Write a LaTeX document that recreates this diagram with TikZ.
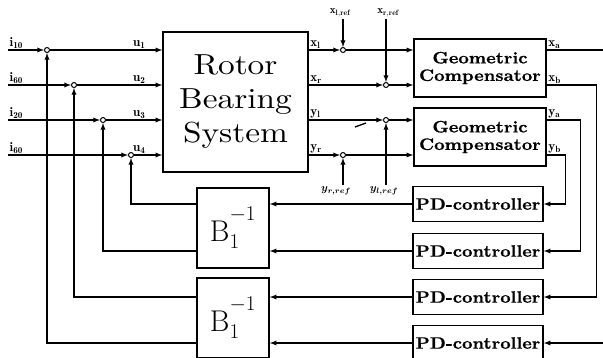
\RequirePackage{fix-cm}
\documentclass[tikz,border=0pt]{standalone}
\usepackage{fontspec}
\usepackage{bm}
\newfontfamily\rbsfont[Extension=.otf,FakeStretch=1.15]{lmroman10-regular}
\newfontfamily\boxfont[Extension=.otf,FakeStretch=1.1,FakeBold=0.8]{lmroman10-bold}
\usetikzlibrary{calc,arrows,positioning}
\tikzset{
	block/.style={
		draw, rectangle, line width=1.5pt,
		inner sep=0pt, align=center, text=black
	},
	comp_block/.style={
		block, minimum width=132pt, minimum height=58pt,
		font=\boxfont\fontsize{16.5}{17.5}\selectfont
	},
	pd_block/.style={
		block, minimum width=130pt, minimum height=35pt,
		font=\boxfont\fontsize{16.5}{17}\selectfont
	},
	binv_block/.style={
		block, minimum width=72pt, minimum height=80pt,
		font=\fontsize{30}{30}\selectfont
	},
	sum_node/.style={
		draw, circle, minimum size=5pt, inner sep=0pt,
		fill=white, line width=1pt
	},
	sig/.style={font=\fontsize{13}{14}\selectfont, inner sep=1pt},
	ref_sig/.style={font=\fontsize{11}{12}\selectfont, inner sep=1pt},
	>=latex
}

\begin{document}
\begin{tikzpicture}[x=1pt, y=-1pt, line width=1.3pt]
	\useasboundingbox (0,0) rectangle (603,357);
	% blocks
	\node[block, minimum width=145pt, minimum height=140pt,
		font=\rbsfont\fontsize{29}{34}\selectfont] (rbs) at (235.5,102) {Rotor\\Bearing\\System};
	\node[comp_block] (comp_x) at (480,68) {Geometric\\Compensator};
	\node[comp_block] (comp_y) at (480,137) {Geometric\\Compensator};
	\node[pd_block] (pd_a) at (478,204) {PD-controller};
	\node[pd_block] (pd_b) at (478,251) {PD-controller};
	\node[pd_block] (pd_c) at (478,297) {PD-controller};
	\node[pd_block] (pd_d) at (478,343) {PD-controller};
	\node[binv_block] (binv_a) at (233,228) {$\mathrm{B}_1^{\raisebox{10pt}{$\scriptstyle-1$}}$};
	\node[binv_block] (binv_b) at (233,318) {$\mathrm{B}_1^{\raisebox{10pt}{$\scriptstyle-1$}}$};
	% summing points
	\node[sum_node] (sum_u1) at (47,50) {};
	\node[sum_node] (sum_u2) at (74,85) {};
	\node[sum_node] (sum_u3) at (103,120) {};
	\node[sum_node] (sum_u4) at (131,155) {};
	\node[sum_node] (sum_xl) at (343,50) {};
	\node[sum_node] (sum_xr) at (386,85) {};
	\node[sum_node] (sum_yl) at (386,120) {};
	\node[sum_node] (sum_yr) at (343,155) {};
	% inputs
	\foreach \n/\t in {1/10, 2/60, 3/20, 4/60} {
		\coordinate (in_\n) at (sum_u1 -| 8,0);
		\coordinate (in_\n) at ($(in_\n)+(0,{35*(\n-1)})$);
		\node[sig, above right] (lab_i\n) at (in_\n) {$\mathbf{i_{\t}}$};
		\draw[->] (in_\n) -- (sum_u\n);
		\draw[->] (sum_u\n) -- (rbs.west |- sum_u\n);
		\node[sig, above] (lab_u\n) at ($(rbs.west |- sum_u\n)+(-23,0)$) {$\mathbf{u_{\n}}$};
	}
	% outputs
	\draw[->] (rbs.east |- sum_xl) -- (sum_xl);
	\draw[->] (rbs.east |- sum_xr) -- (sum_xr);
	\draw[->] (rbs.east |- sum_yl) -- (sum_yl);
	\draw[->] (rbs.east |- sum_yr) -- (sum_yr);
	\node[sig, above right] (lab_xl) at (rbs.east |- sum_xl) {$\mathbf{x_l}$};
	\node[sig, above right] (lab_xr) at (rbs.east |- sum_xr) {$\mathbf{x_r}$};
	\node[sig, above right] (lab_yl) at (rbs.east |- sum_yl) {$\mathbf{y_l}$};
	\node[sig, above right] (lab_yr) at (rbs.east |- sum_yr) {$\mathbf{y_r}$};
	\draw[->] (sum_xl) -- (comp_x.west |- sum_xl);
	\draw[->] (sum_xr) -- (comp_x.west |- sum_xr);
	\draw[->] (sum_yl) -- (comp_y.west |- sum_yl);
	\draw[->] (sum_yr) -- (comp_y.west |- sum_yr);
	% references
	\node[ref_sig] (ref_xl) at (340,13) {$\mathbf{x_{l,ref}}$};
	\node[ref_sig] (ref_xr) at (388,13) {$\mathbf{x_{r,ref}}$};
	\node[ref_sig] (ref_yr) at (336,191) {$\bm{y_{r,ref}}$};
	\node[ref_sig] (ref_yl) at (384,191) {$\bm{y_{l,ref}}$};
	\draw[->] (ref_xl.south -| sum_xl) -- (sum_xl);
	\draw[->] (ref_xr.south -| sum_xr) -- (sum_xr);
	\draw[->] (ref_yr.north -| sum_yr) -- (sum_yr);
	\draw[->] (ref_yl.north -| sum_yl) -- (sum_yl);
	\draw (355,127) -- (366,123);
	% compensator outputs
	\coordinate (xa_end) at (603,50);
	\coordinate (xa_in) at (603,343);
	\draw (comp_x.east |- xa_end) -- (xa_end);
	\draw[->] (comp_x.east |- sum_xr) -- ++(50,0) |- (pd_c);
	\draw[->] (comp_y.east |- sum_yl) -- ++(34,0) |- (pd_b);
	\draw[->] (comp_y.east |- sum_yr) -- ++(19,0) |- (pd_a);
	\draw[->] (xa_in) -- (pd_d);
	\node[sig, above right] (lab_xa) at (comp_x.east |- xa_end) {$\mathbf{x_a}$};
	\node[sig, above right] (lab_xb) at (comp_x.east |- sum_xr) {$\mathbf{x_b}$};
	\node[sig, above right] (lab_ya) at (comp_y.east |- sum_yl) {$\mathbf{y_a}$};
	\node[sig, above right] (lab_yb) at (comp_y.east |- sum_yr) {$\mathbf{y_b}$};
	% feedback
	\draw[->] (pd_a) -- (binv_a.east |- pd_a);
	\draw[->] (pd_b) -- (binv_a.east |- pd_b);
	\draw[->] (pd_c) -- (binv_b.east |- pd_c);
	\draw[->] (pd_d) -- (binv_b.east |- pd_d);
	\draw[->] (binv_a.west |- pd_a) -| (sum_u4);
	\draw[->] (binv_a.west |- pd_b) -| (sum_u3);
	\draw[->] (binv_b.west |- pd_c) -| (sum_u2);
	\draw[->] (binv_b.west |- pd_d) -| (sum_u1);
\end{tikzpicture}
\end{document}
